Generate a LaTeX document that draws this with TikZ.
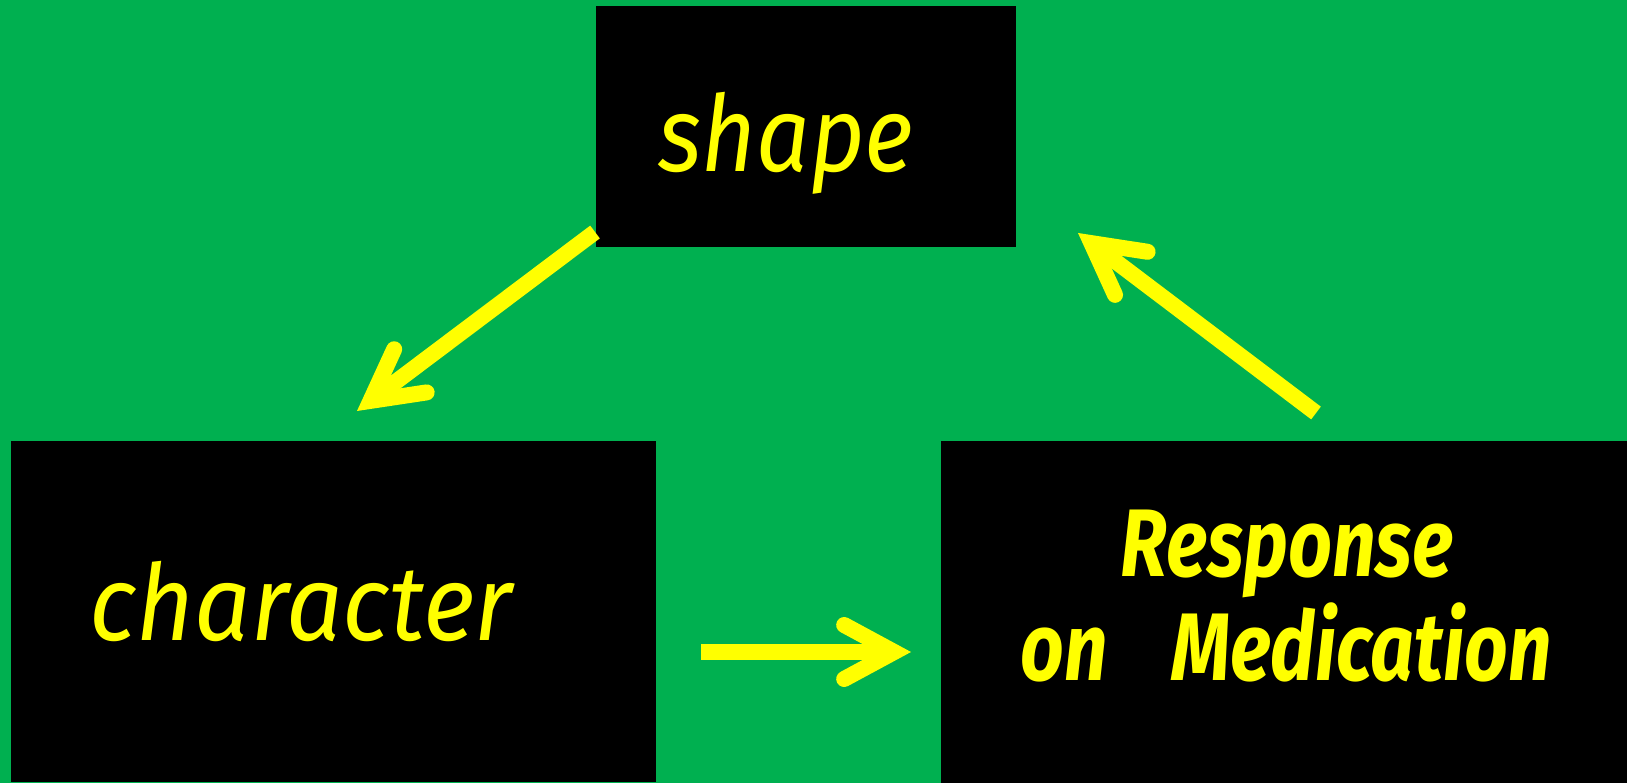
\documentclass[tikz,border=0pt]{standalone}
\usepackage{fontspec}
\usepackage{graphicx}
\setmainfont{Fira Sans}
\usetikzlibrary{arrows.meta}
\definecolor{bggreen}{RGB}{0,176,80}
\definecolor{txtyellow}{RGB}{255,255,0}
\begin{document}
\begin{tikzpicture}[x=1pt,y=-1pt,
  box/.style={rectangle, fill=black, draw=none, inner sep=0pt, outer sep=0pt},
  lbl/.style={text=txtyellow, inner sep=0pt, anchor=base, font=\itshape\fontsize{106}{106}\selectfont},
  lblb/.style={text=txtyellow, inner sep=0pt, anchor=base, font=\bfseries\itshape\fontsize{96}{96}\selectfont},
  arr/.style={draw=txtyellow, line width=16pt, line cap=butt,
    -{Straight Barb[length=50pt,width=54pt,line cap=round,line join=miter]}}
]
\fill[bggreen] (0,0) rectangle (1627,783);
\useasboundingbox (0,0) rectangle (1627,783);
% boxes
\node[box, minimum width=420pt, minimum height=241pt] (shape) at (806,126.5) {};
\node[box, minimum width=645pt, minimum height=341pt] (character) at (333.5,611.5) {};
\node[box, minimum width=686pt, minimum height=342pt] (response) at (1284,612) {};
% labels
\node[lbl] (tshape) at (786,172) {\scalebox{0.89}[1]{shape}};
\node[lbl] (tchar) at (301,640) {\scalebox{0.94}[1]{character}};
\node[lblb] (tresp1) at (1287,576) {\scalebox{0.8}[1]{Response}};
\node[lblb] (tresp2) at (1286,680) {\scalebox{0.795}[1]{on\hspace{80pt}Medication}};
% connector ends
\coordinate (a1s) at (595,232);
\coordinate (a1e) at (357,411);
\coordinate (a2s) at (1316,413);
\coordinate (a2e) at (1078,233);
\coordinate (a3s) at (701,652);
\coordinate (a3e) at (911,652);
\draw[arr] (a1s) -- (a1e);
\draw[arr] (a2s) -- (a2e);
\draw[arr] (a3s) -- (a3e);
\end{tikzpicture}
\end{document}
